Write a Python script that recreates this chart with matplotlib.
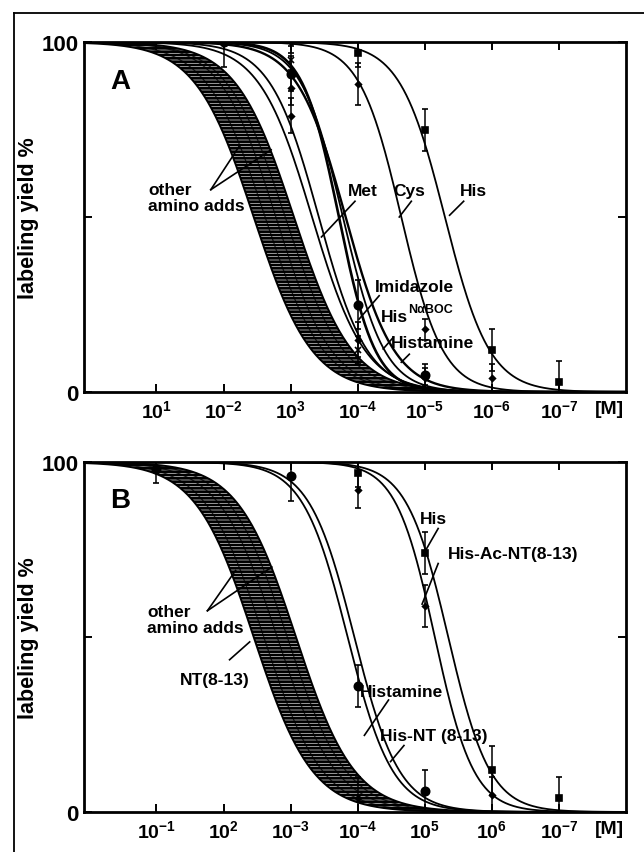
import numpy as np
import matplotlib
matplotlib.use("Agg")
import matplotlib.pyplot as plt
from matplotlib.lines import Line2D

plt.rcParams['font.family'] = ['Liberation Sans', 'DejaVu Sans']
plt.rcParams['font.weight'] = 'bold'
plt.rcParams['axes.labelweight'] = 'bold'
plt.rcParams['mathtext.fontset'] = 'custom'
plt.rcParams['mathtext.rm'] = 'Liberation Sans:bold'
plt.rcParams['mathtext.it'] = 'Liberation Sans:bold'
plt.rcParams['mathtext.bf'] = 'Liberation Sans:bold'
plt.rcParams['hatch.linewidth'] = 1.9

# ---------------- data ----------------
# tick positions (M) and labels as printed
tick_conc = [1e-1, 1e-2, 1e-3, 1e-4, 1e-5, 1e-6, 1e-7]
ticklabels_A = [r'$10^{1}$', r'$10^{-2}$', r'$10^{3}$', r'$10^{-4}$', r'$10^{-5}$', r'$10^{-6}$', r'$10^{-7}$']
ticklabels_B = [r'$10^{-1}$', r'$10^{2}$', r'$10^{-3}$', r'$10^{-4}$', r'$10^{5}$', r'$10^{6}$', r'$10^{-7}$']

# fitted curves: -log10(IC50) and hill slope
band_A = [(2.45, 1.0), (3.05, 1.0)]
inner_A = [(2.62, 1.0), (2.78, 1.05), (2.92, 1.0)]
curves_A = {
    'extra': (3.32, 1.1),
    'Met': (3.42, 1.2),
    'Imidazole': (3.72, 1.6),
    'HisNaBOC': (3.78, 1.4),
    'Histamine': (3.82, 1.2),
    'Cys': (4.65, 1.4),
    'His': (5.30, 1.3),
}
band_B = [(2.45, 1.0), (3.08, 1.0)]
inner_B = [(2.60, 1.0), (2.80, 1.0), (2.95, 1.0)]
curves_B = {
    'Histamine': (3.85, 1.3),
    'His-NT': (3.95, 1.3),
    'His-Ac-NT': (5.15, 1.5),
    'His': (5.35, 1.4),
}

# measured points: concentration, yield %, error
pts_A = {
    'His': ([1e-4, 1e-5, 1e-6, 1e-7], [97, 75, 12, 3], [4, 6, 6, 6], 's', 4),
    'Cys': ([1e-3, 1e-4, 1e-5], [100, 88, 18], [3, 6, 3], 'D', 3),
    'Imidazole': ([1e-2, 1e-3, 1e-4, 1e-5], [100, 91, 25, 5], [7, 5, 7, 3], 'o', 6),
    'Histamine': ([1e-3, 1e-4, 1e-5, 1e-6], [87, 15, 4, 4], [5, 5, 3, 4], 'D', 3),
    'HisNaBOC': ([1e-3, 1e-4], [95, 12], [4, 4], 'x', 4),
    'Met': ([1e-3], [79], [5], 'D', 3),
}
pts_B = {
    'His': ([1e-4, 1e-5, 1e-6, 1e-7], [97, 74, 12, 4], [4, 6, 7, 6], 's', 4),
    'His-Ac-NT': ([1e-4, 1e-5, 1e-6], [92, 59, 5], [5, 6, 5], 'D', 3),
    'Histamine': ([1e-1, 1e-3, 1e-4, 1e-5], [98, 96, 36, 6], [4, 7, 6, 6], 'o', 6),
    'other': ([1e-4], [4], [6], 'D', 3),
}


def hill(p, p50, h):
    return 100.0 / (1.0 + 10 ** (h * (p - p50)))


p = np.linspace(-0.3, 8.3, 600)
conc = 10 ** -p


def setup(ax, labels, letter):
    ax.set_xscale('log')
    ax.set_xlim(10 ** 0.08, 1e-8)
    ax.set_ylim(0, 100)
    ax.set_xticks(tick_conc)
    ax.set_xticklabels(labels, fontsize=14)
    ax.minorticks_off()
    ax.set_yticks([0, 50, 100])
    ax.set_yticklabels(['0', '', '100'], fontsize=16)
    ax.tick_params(direction='in', length=6, width=1.4, top=True, right=True, pad=4)
    ax.tick_params(axis='x', pad=5)
    for s in ax.spines.values():
        s.set_linewidth(2.0)
    ax.set_ylabel('labeling yield %', fontsize=15.5, labelpad=2)
    ax.text(0.97, -0.022, '[M]', transform=ax.transAxes, ha='center', va='top', fontsize=14)
    ax.text(10 ** -0.46, 89, letter, fontsize=20, ha='center', va='center')


def draw_band(ax, band, inner):
    y1 = hill(p, *band[0])
    y2 = hill(p, *band[1])
    ax.fill_between(conc, y1, y2, facecolor='0.85', edgecolor='black', hatch='-----', linewidth=0)
    ax.plot(conc, y1, color='black', lw=1.4)
    ax.plot(conc, y2, color='black', lw=1.4)
    for c in inner:
        ax.plot(conc, hill(p, *c), color='black', lw=0.9, alpha=0.8)


def draw_pts(ax, pts):
    for key, (xs, ys, es, mk, ms) in pts.items():
        ax.errorbar(xs, ys, yerr=es, fmt=mk, color='black', ms=ms, capsize=2.2,
                    elinewidth=1.1, capthick=1.1, mew=1.2)


def pointer(ax, p0, y0, p1, y1):
    ax.plot([10 ** -p0, 10 ** -p1], [y0, y1], color='black', lw=1.2)


fig = plt.figure(figsize=(6.44, 8.53), dpi=100)

# outer frame
fig.add_artist(Line2D([14 / 644, 14 / 644], [0, 1 - 14 / 853], color='black', lw=1.3))
fig.add_artist(Line2D([14 / 644, 1], [1 - 14 / 853, 1 - 14 / 853], color='black', lw=1.3))

axA = fig.add_axes([84 / 644, 1 - 393 / 853, 542 / 644, 350 / 853])
axB = fig.add_axes([84 / 644, 1 - 813 / 853, 542 / 644, 350 / 853])

# ---------- panel A ----------
draw_band(axA, band_A, inner_A)
widths_A = {'Imidazole': 1.9, 'Histamine': 1.7}
for name, c in curves_A.items():
    axA.plot(conc, hill(p, *c), color='black', lw=widths_A.get(name, 1.3))
draw_pts(axA, pts_A)
setup(axA, ticklabels_A, 'A')

fs = 12.5
axA.text(10 ** -0.88, 55.6, 'other\namino adds', fontsize=fs, ha='left', va='center', linespacing=1.05)
pointer(axA, 1.81, 57.8, 2.23, 70.1)
pointer(axA, 1.81, 57.8, 2.71, 69.2)
axA.text(10 ** -4.08, 57.5, 'Met', fontsize=fs, ha='center', va='center')
pointer(axA, 3.96, 54.5, 3.46, 44.3)
axA.text(10 ** -4.77, 57.5, 'Cys', fontsize=fs, ha='center', va='center')
pointer(axA, 4.80, 54.5, 4.62, 50.0)
axA.text(10 ** -5.73, 57.5, 'His', fontsize=fs, ha='center', va='center')
pointer(axA, 5.58, 54.5, 5.37, 50.5)
axA.text(10 ** -4.26, 30.2, 'Imidazole', fontsize=fs, ha='left', va='center')
pointer(axA, 4.32, 27.5, 4.02, 20.8)
axA.text(10 ** -4.35, 21.7, 'His', fontsize=fs, ha='left', va='center')
axA.annotate('N\u03b1BOC', xy=(10 ** -4.35, 21.7), xytext=(19.5, 5), textcoords='offset points',
             fontsize=9, ha='left', va='center')
pointer(axA, 4.53, 15.6, 4.38, 12.3)
axA.text(10 ** -4.50, 14.2, 'Histamine', fontsize=fs, ha='left', va='center')
pointer(axA, 4.77, 10.8, 4.65, 8.5)

# ---------- panel B ----------
draw_band(axB, band_B, inner_B)
for name, c in curves_B.items():
    axB.plot(conc, hill(p, *c), color='black', lw=1.3)
draw_pts(axB, pts_B)
setup(axB, ticklabels_B, 'B')

axB.text(10 ** -0.86, 55.0, 'other\namino adds', fontsize=fs, ha='left', va='center', linespacing=1.05)
pointer(axB, 1.76, 57.5, 2.18, 69.0)
pointer(axB, 1.76, 57.5, 2.72, 70.0)
axB.text(10 ** -2.39, 38.0, 'NT(8-13)', fontsize=fs, ha='right', va='center')
pointer(axB, 2.09, 43.5, 2.39, 48.6)
axB.text(10 ** -4.04, 34.5, 'Histamine', fontsize=fs, ha='left', va='center')
pointer(axB, 4.46, 32.0, 4.10, 21.9)
axB.text(10 ** -4.34, 21.9, 'His-NT (8-13)', fontsize=fs, ha='left', va='center')
pointer(axB, 4.69, 19.0, 4.49, 14.4)
axB.text(10 ** -4.93, 83.8, 'His', fontsize=fs, ha='left', va='center')
pointer(axB, 5.20, 81.0, 5.02, 75.0)
axB.text(10 ** -5.35, 74.0, 'His-Ac-NT(8-13)', fontsize=fs, ha='left', va='center')
pointer(axB, 5.20, 71.0, 4.96, 59.4)

fig.savefig('out.png', dpi=100)
